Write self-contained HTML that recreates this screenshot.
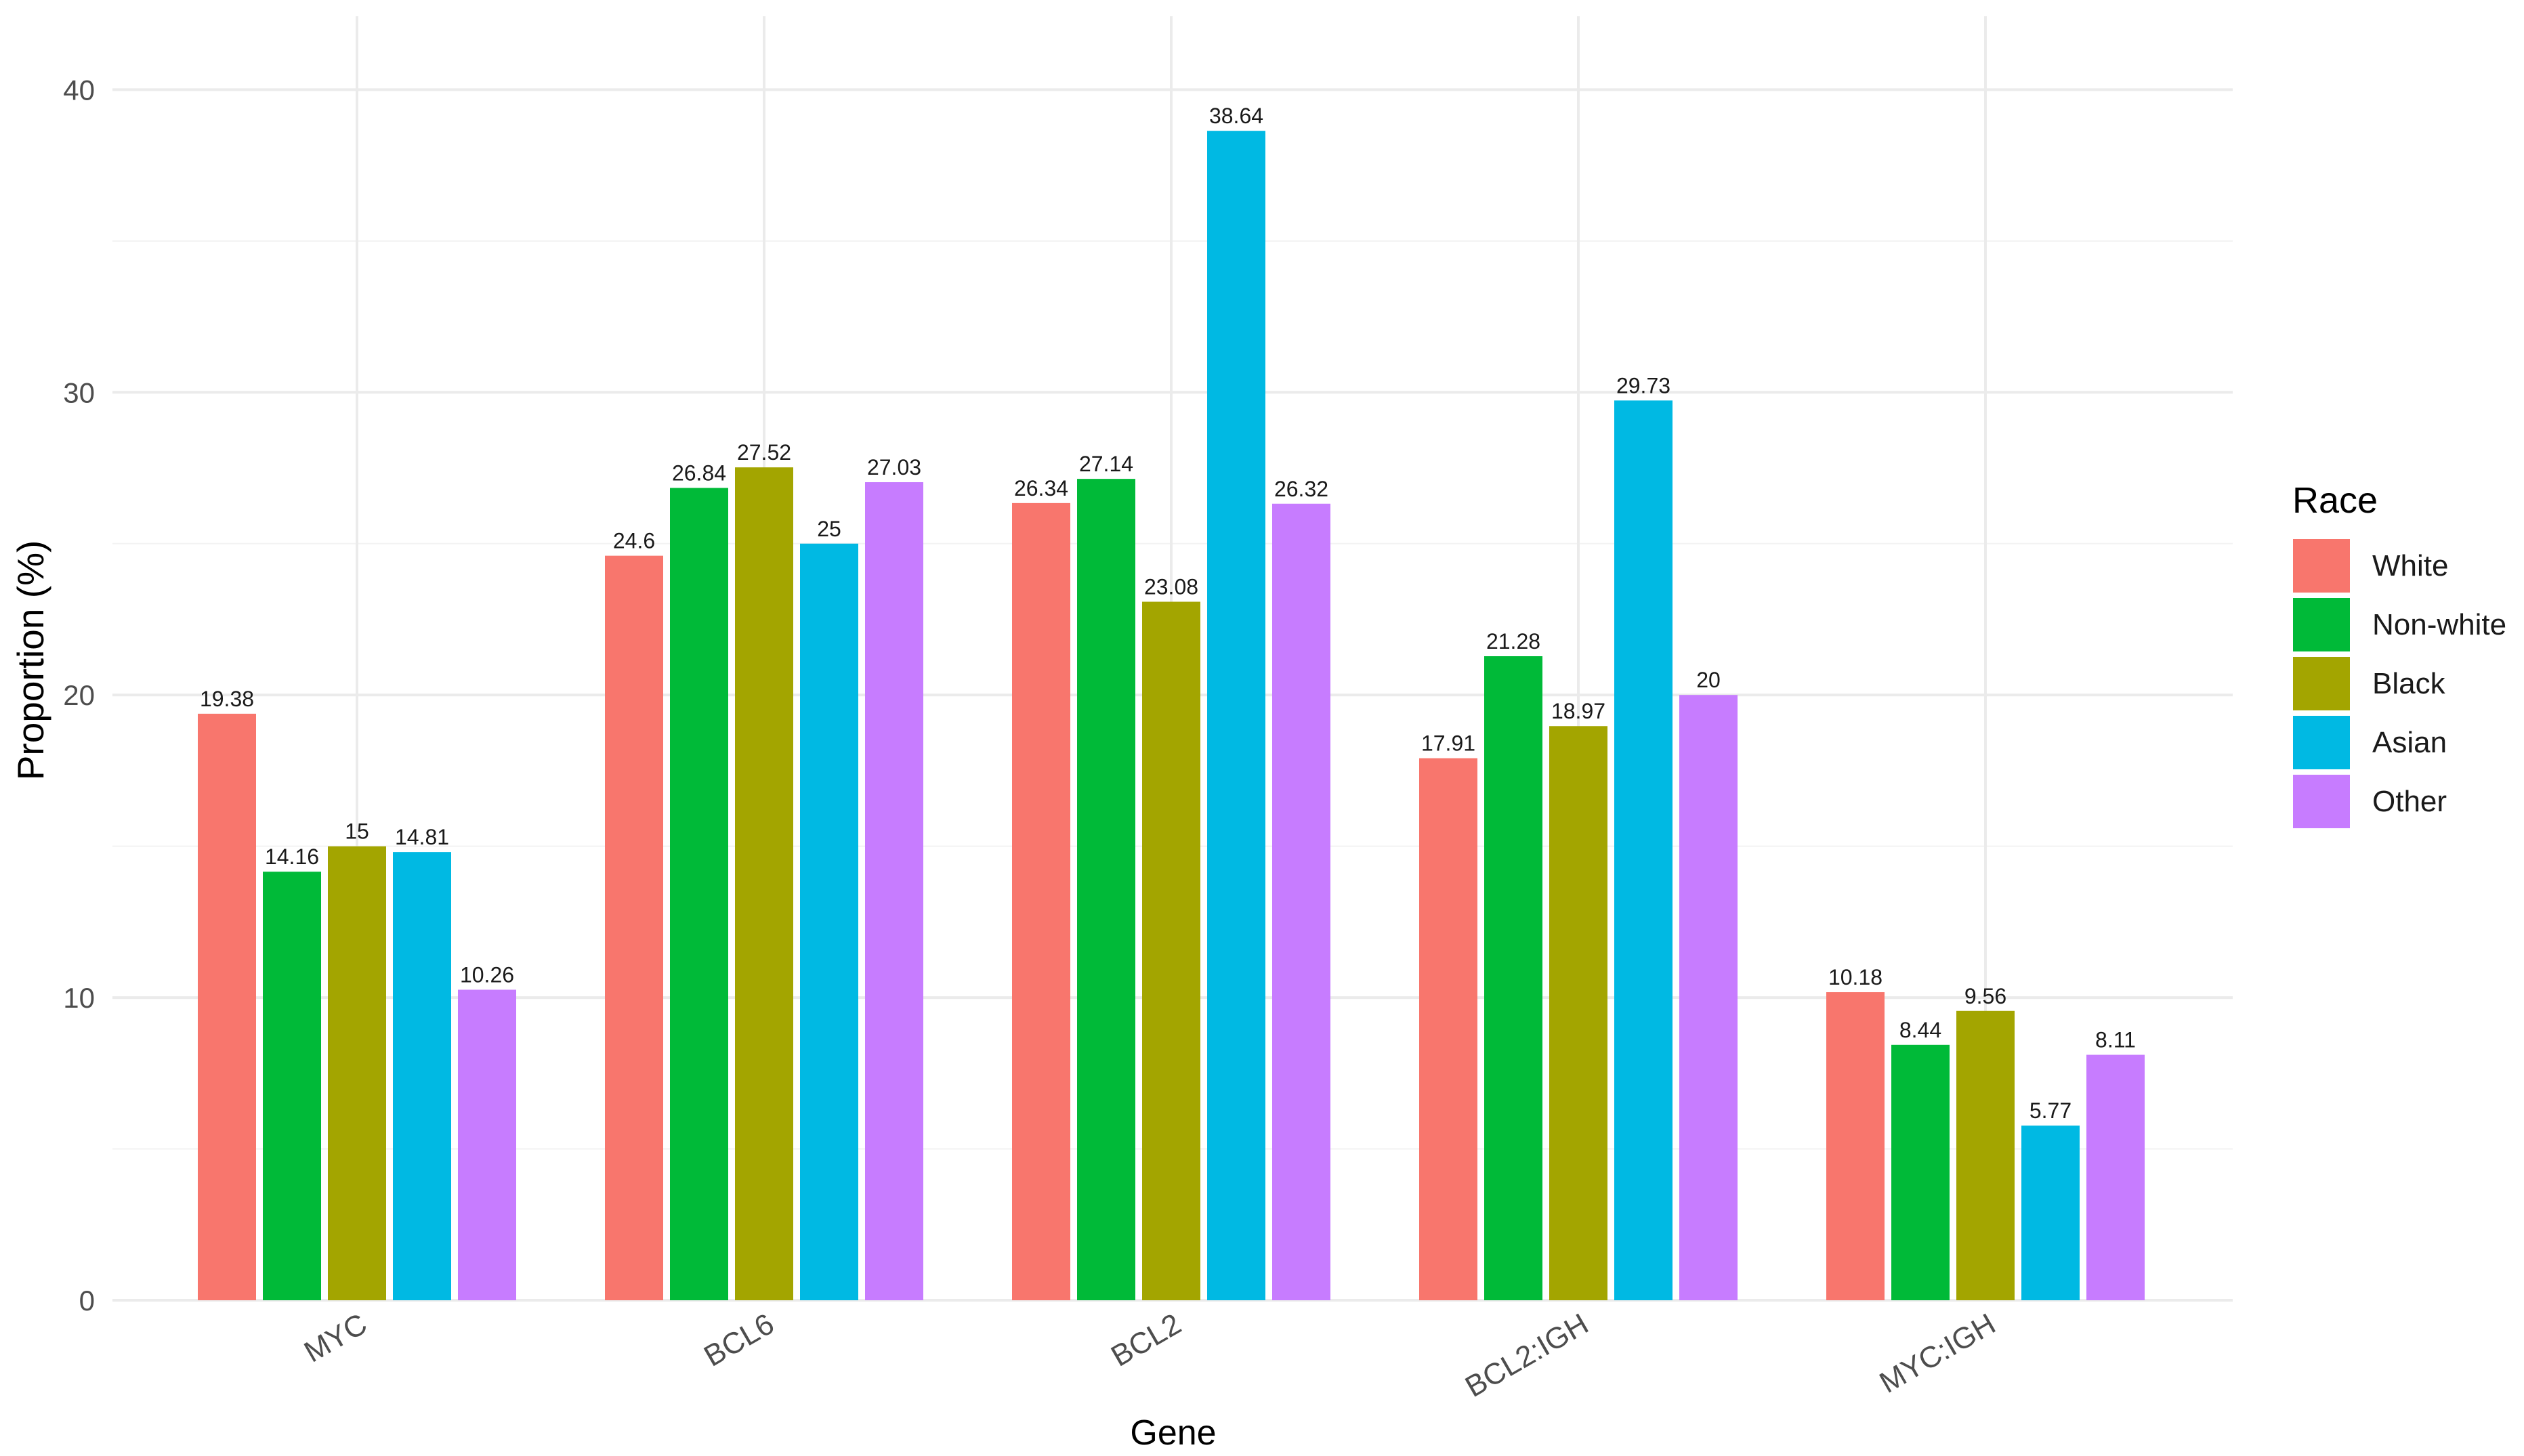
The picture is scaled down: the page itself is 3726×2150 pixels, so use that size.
<!DOCTYPE html>
<html><head><meta charset="utf-8"><style>
html,body{margin:0;padding:0;background:#fff;}
svg{display:block;font-family:"Liberation Sans",Arial,sans-serif;}
</style></head><body>
<svg id="chart" width="3726" height="2150" viewBox="0 0 3726 2150" xmlns="http://www.w3.org/2000/svg">
<g id="grid"></g>
<g id="bars"></g>
<g id="labels"></g>
<g id="axes"></g>
<text x="1732" y="2133" font-size="52" text-anchor="middle" fill="#000">Gene</text>
<text transform="translate(64,975) rotate(-90)" font-size="55" text-anchor="middle" fill="#000">Proportion (%)</text>
<g id="legend">
<text x="3384" y="757" font-size="54" fill="#000">Race</text>
</g>
</svg>
<script>
const categories = ["MYC","BCL6","BCL2","BCL2:IGH","MYC:IGH"];
const seriesNames = ["White","Non-white","Black","Asian","Other"];
const colors = ["#F8766D","#00BA38","#A3A500","#00B9E3","#C77CFF"];
const white = [19.38,24.6,26.34,17.91,10.18];
const nonWhite = [14.16,26.84,27.14,21.28,8.44];
const black = [15,27.52,23.08,18.97,9.56];
const asian = [14.81,25,38.64,29.73,5.77];
const other = [10.26,27.03,26.32,20,8.11];
const yTicks = [0,10,20,30,40];
const series = [white,nonWhite,black,asian,other];

const NS="http://www.w3.org/2000/svg";
const plotL=166, plotR=3296, plotT=24, y0=1920, pxPerUnit=44.69;
const catStep=601, cat0=527, slot=96, barW=86;
function yScale(v){return y0 - v*pxPerUnit;}
function xScale(i){return cat0 + i*catStep;}
function mk(tag,attrs,parent){const e=document.createElementNS(NS,tag);for(const k in attrs)e.setAttribute(k,attrs[k]);parent.appendChild(e);return e;}

const grid=document.getElementById('grid');
for(let i=0;i<yTicks.length-1;i++){
  const v=(yTicks[i]+yTicks[i+1])/2;
  const l=mk('line',{x1:plotL,x2:plotR,y1:yScale(v),y2:yScale(v),stroke:'#f3f3f3','stroke-width':2},grid);
  
  
}
const axes=document.getElementById('axes');
yTicks.forEach(t=>{
  const l=mk('line',{x1:plotL,x2:plotR,y1:yScale(t),y2:yScale(t),stroke:'#ebebeb','stroke-width':4},grid);
  
  
  const tx=mk('text',{x:140,y:yScale(t)+15,'font-size':42,'text-anchor':'end',fill:'#4d4d4d'},axes);
  tx.textContent=t;
  
  
});
categories.forEach((c,i)=>{
  const l=mk('line',{x1:xScale(i),x2:xScale(i),y1:plotT,y2:y0,stroke:'#ebebeb','stroke-width':4},grid);
  
  
  const tx=mk('text',{transform:`translate(${xScale(i)+18},${y0+44}) rotate(-30)`,'font-size':44,'text-anchor':'end',fill:'#4d4d4d'},axes);
  tx.textContent=c;
  
  
});
const bars=document.getElementById('bars'), labels=document.getElementById('labels');
series.forEach((vals,s)=>{
  vals.forEach((v,i)=>{
    const cx=xScale(i)+(s-2)*slot;
    const r=mk('rect',{x:cx-barW/2,y:yScale(v),width:barW,height:y0-yScale(v),fill:colors[s]},bars);
    
    
    const t=mk('text',{x:cx,y:yScale(v)-11,'font-size':32,'text-anchor':'middle',fill:'#1a1a1a'},labels);
    t.textContent=v;
    
    
  });
});
const legend=document.getElementById('legend');
seriesNames.forEach((n,s)=>{
  const y=796+s*87;
  const r=mk('rect',{x:3385,y:y,width:84,height:79,fill:colors[s]},legend);
  
  
  const t=mk('text',{x:3502,y:y+54,'font-size':44,fill:'#1a1a1a'},legend);
  t.textContent=n;
  
  
});
</script>
</body></html>
